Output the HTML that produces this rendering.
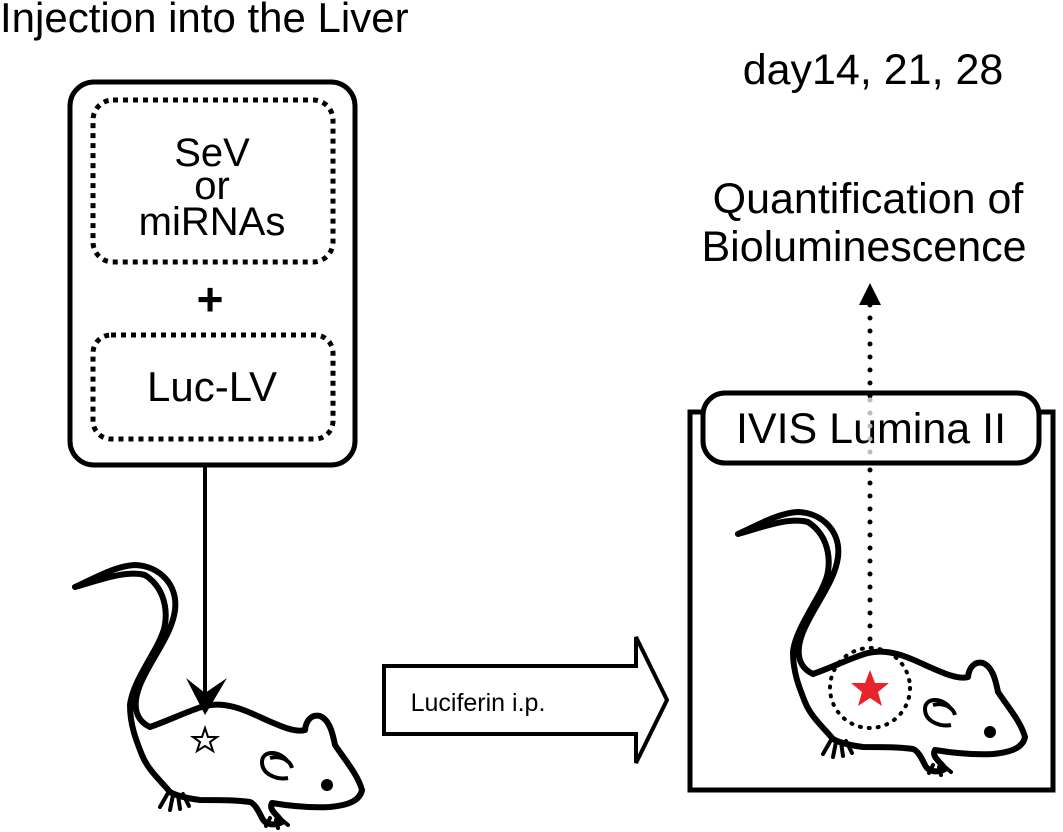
<!DOCTYPE html>
<html><head><style>
html,body{margin:0;padding:0;background:#fff;}
svg{display:block;font-family:"Liberation Sans",Arial,sans-serif;}
</style></head><body>
<svg width="1063" height="832" viewBox="0 0 1063 832" xmlns="http://www.w3.org/2000/svg">
<defs>
<g id="mouse">
<path d="M75,587 C95,578 115,566 135,565 C160,566 178,585 175,610 C172,635 150,660 140,685 C132,705 135,720 150,727 C170,720 190,710 205,706 C225,701 245,710 262,718 C280,726 295,733 305,730 C306,720 312,714 320,716 C330,720 333,735 335,745 C345,760 358,775 362,790 C360,800 350,805 330,807 C310,808 290,806 272,803 C268,810 278,815 282,822 C275,826 265,825 262,818 C258,810 255,804 250,802 C235,800 220,800 200,800 C185,798 175,795 170,792 C160,780 148,770 142,755 C136,740 130,725 130,705 C132,685 150,660 160,640 C170,620 168,590 145,575 C125,570 100,580 75,587 Z" fill="#fff" stroke="#000" stroke-width="6" stroke-linejoin="round"/>
<path d="M140,575 C162,582 170,605 163,628 C155,650 140,675 136,700" fill="none" stroke="#000" stroke-width="3"/>
<path d="M168,793 l-8,14 M173,795 l-3,15 M178,795 l2,14 M183,794 l6,12" stroke="#000" stroke-width="4" stroke-linecap="round"/>
<path d="M270,818 l-4,8 M276,820 l2,8 M282,820 l6,5" stroke="#000" stroke-width="4" stroke-linecap="round"/>
<path d="M288,762 C280,750 262,750 262,762 C262,775 278,780 288,778 M270,758 C280,755 290,760 292,768" fill="none" stroke="#000" stroke-width="4"/>
<circle cx="327" cy="785" r="6" fill="#000"/>
</g>
</defs>

<text x="0" y="32" font-size="42">Injection into the Liver</text>
<text x="873" y="84" font-size="43" text-anchor="middle">day14, 21, 28</text>
<text x="868" y="213" font-size="43" text-anchor="middle">Quantification of</text>
<text x="864" y="261" font-size="43" text-anchor="middle">Bioluminescence</text>

<rect x="70" y="82" width="285" height="383" rx="24" fill="#fff" stroke="#000" stroke-width="5"/>
<rect x="93" y="100" width="240" height="162" rx="20" fill="none" stroke="#000" stroke-width="5" stroke-dasharray="5,5"/>
<text x="212" y="166" font-size="40" text-anchor="middle">SeV</text>
<text x="212" y="199" font-size="40" text-anchor="middle">or</text>
<text x="212" y="235" font-size="40" text-anchor="middle">miRNAs</text>
<text x="210" y="315" font-size="46" font-weight="bold" text-anchor="middle">+</text>
<rect x="93" y="335" width="240" height="104" rx="18" fill="none" stroke="#000" stroke-width="5" stroke-dasharray="5,5"/>
<text x="212" y="401" font-size="42" text-anchor="middle">Luc-LV</text>

<use href="#mouse"/>
<line x1="205" y1="465" x2="205" y2="695" stroke="#000" stroke-width="4"/>
<path d="M186,678 L205,715 L227,678 L205,693 Z" fill="#000"/>
<polygon points="205,728 208,737 217,737 210,742 213,751 205,746 197,751 200,742 193,737 202,737" fill="#fff" stroke="#000" stroke-width="2"/>

<path d="M384,666 L636,666 L636,637 L667,700 L636,763 L636,734 L384,734 Z" fill="#fff" stroke="#000" stroke-width="4" stroke-linejoin="miter"/>
<text x="478" y="711" font-size="25" text-anchor="middle">Luciferin i.p.</text>

<rect x="690" y="412" width="363" height="378" fill="#fff" stroke="#000" stroke-width="5"/>
<rect x="703" y="393" width="336" height="70" rx="22" fill="#fff" stroke="#000" stroke-width="5"/>
<text x="871" y="443" font-size="43" text-anchor="middle">IVIS Lumina II</text>

<g transform="translate(663,-53)"><use href="#mouse"/></g>
<circle cx="870" cy="688" r="40" fill="none" stroke="#000" stroke-width="4" stroke-dasharray="1,8" stroke-linecap="round"/>
<polygon points="870,670 875,683 889,683 878,692 882,706 870,698 858,706 862,692 851,683 865,683" fill="#e8232a"/>
<line x1="870" y1="305" x2="870" y2="400" stroke="#000" stroke-width="5" stroke-dasharray="0,13" stroke-linecap="round"/>
<line x1="870" y1="400" x2="870" y2="465" stroke="#bbb" stroke-width="5" stroke-dasharray="0,13" stroke-linecap="round"/>
<line x1="870" y1="470" x2="870" y2="650" stroke="#000" stroke-width="5" stroke-dasharray="0,13" stroke-linecap="round"/>
<path d="M859,305 L870,283 L881,305 Z" fill="#000"/>
</svg>
</body></html>
